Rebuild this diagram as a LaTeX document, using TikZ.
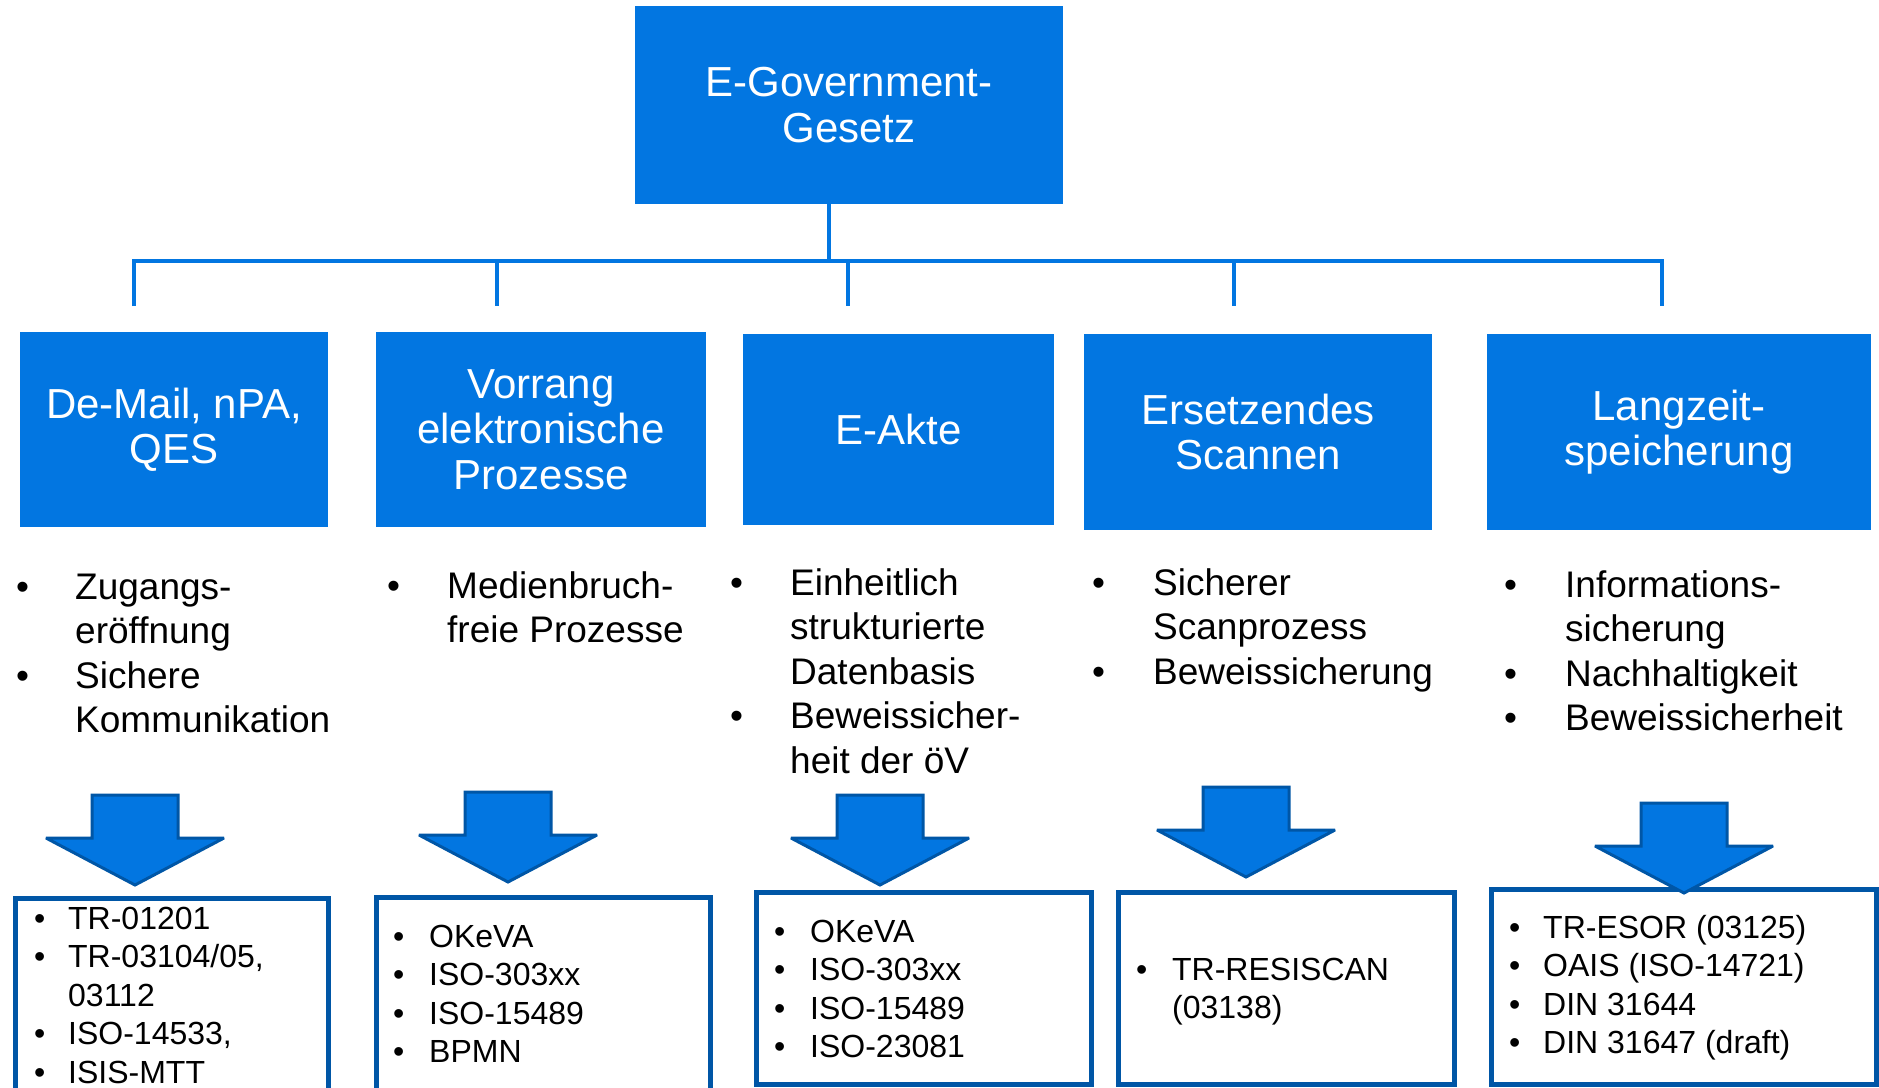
\documentclass[tikz,border=0pt]{standalone}
\usepackage{fontspec}
\setmainfont{Liberation Sans}
\definecolor{egblue}{RGB}{2,118,225}
\definecolor{egdark}{RGB}{0,86,166}
% bullet rows: first column holds the bullet, second the text
\newcommand{\bulletrows}[2]{\begin{tabular}[t]{@{}p{#1}@{}l@{}}#2\end{tabular}}
\tikzset{
  hbox/.style={rectangle, fill=egblue, text=white, align=center, inner sep=0pt,
    font=\fontsize{42}{45.5}\selectfont},
  lowbox/.style={rectangle, draw=egdark, line width=4.5pt, inner sep=0pt, anchor=north west},
  listtext/.style={inner sep=0pt, anchor=base west, font=\fontsize{37}{44.5}\selectfont},
  reftext/.style={inner sep=0pt, anchor=base west, font=\fontsize{32}{38.5}\selectfont},
  bus/.style={draw=egblue, line width=4.5pt, line join=miter},
  blockarrow/.pic={
    \draw[fill=egblue, draw=egdark, line width=3pt, line join=miter, miter limit=3]
      (-43,0) -- (43,0) -- (43,43) -- (89,43) -- (0,90) -- (-89,43) -- (-43,43) -- cycle;
  }
}
\begin{document}
\begin{tikzpicture}[x=1pt,y=-1pt]
\useasboundingbox (0,0) rectangle (1879,1087);
\clip (0,0) rectangle (1879,1087);

% top node
\node[hbox, minimum width=428pt, minimum height=198pt] (top) at (849,105) {E-Government-\\Gesetz};

% second level
\node[hbox, minimum width=308pt, minimum height=195pt] (h1) at (174,429.5) {De-Mail, nPA,\\QES};
\node[hbox, minimum width=330pt, minimum height=195pt] (h2) at (541,429.5) {Vorrang\\elektronische\\Prozesse};
\node[hbox, minimum width=311pt, minimum height=191pt] (h3) at (898.5,429.5) {E-Akte};
\node[hbox, minimum width=348pt, minimum height=196pt] (h4) at (1258,432) {Ersetzendes\\Scannen};
\node[hbox, minimum width=384pt, minimum height=196pt] (h5) at (1679,432) {Langzeit-\\speicherung};

% tree connectors
\coordinate (j) at (829,261);
\coordinate (t1) at (134,306);
\coordinate (t2) at (497,306);
\coordinate (t3) at (848,306);
\coordinate (t4) at (1234,306);
\coordinate (t5) at (1662,306);
\draw[bus] (j |- top.south) -- (j);
\draw[bus] (t1) -- (t1 |- j) -- (t5 |- j) -- (t5);
\draw[bus] (t2 |- j) -- (t2);
\draw[bus] (t3 |- j) -- (t3);
\draw[bus] (t4 |- j) -- (t4);

% goals
\node[listtext] (c1) at (16,599) {\bulletrows{59pt}{\textbullet & Zugangs-\\ & eröffnung\\ \textbullet & Sichere\\ & Kommunikation}};
\node[listtext] (c2) at (387,598) {\bulletrows{60pt}{\textbullet & Medienbruch-\\ & freie Prozesse}};
\node[listtext] (c3) at (730,595) {\bulletrows{60pt}{\textbullet & Einheitlich\\ & strukturierte\\ & Datenbasis\\ \textbullet & Beweissicher-\\ & heit der öV}};
\node[listtext] (c4) at (1092,595) {\bulletrows{61pt}{\textbullet & Sicherer\\ & Scanprozess\\ \textbullet & Beweissicherung}};
\node[listtext] (c5) at (1504,597) {\bulletrows{61pt}{\textbullet & Informations-\\ & sicherung\\ \textbullet & Nachhaltigkeit\\ \textbullet & Beweissicherheit}};

% standards boxes
\node[lowbox, minimum width=313pt, minimum height=230pt] (b1) at (13,896) {};
\node[lowbox, minimum width=334pt, minimum height=230pt] (b2) at (374,895) {};
\node[lowbox, minimum width=335pt, minimum height=192pt] (b3) at (754,890) {};
\node[lowbox, minimum width=336pt, minimum height=192pt] (b4) at (1116,890) {};
\node[lowbox, minimum width=385pt, minimum height=195pt] (b5) at (1489,887) {};

\node[reftext] (r1) at (34,929) {\bulletrows{34pt}{\textbullet & TR-01201\\ \textbullet & TR-03104/05,\\ & 03112\\ \textbullet & ISO-14533,\\ \textbullet & ISIS-MTT}};
\node[reftext] (r2) at (393,947) {\bulletrows{36pt}{\textbullet & OKeVA\\ \textbullet & ISO-303xx\\ \textbullet & ISO-15489\\ \textbullet & BPMN}};
\node[reftext] (r3) at (774,942) {\bulletrows{36pt}{\textbullet & OKeVA\\ \textbullet & ISO-303xx\\ \textbullet & ISO-15489\\ \textbullet & ISO-23081}};
\node[reftext] (r4) at (1136,980) {\bulletrows{36pt}{\textbullet & TR-RESISCAN\\ & (03138)}};
\node[reftext] (r5) at (1509,938) {\bulletrows{34pt}{\textbullet & TR-ESOR (03125)\\ \textbullet & OAIS (ISO-14721)\\ \textbullet & DIN 31644\\ \textbullet & DIN 31647 (draft)}};

% block arrows
\pic at (135,795) {blockarrow};
\pic at (508,792) {blockarrow};
\pic at (880,795) {blockarrow};
\pic at (1246,787) {blockarrow};
\pic at (1684,803) {blockarrow};
\end{tikzpicture}
\end{document}
